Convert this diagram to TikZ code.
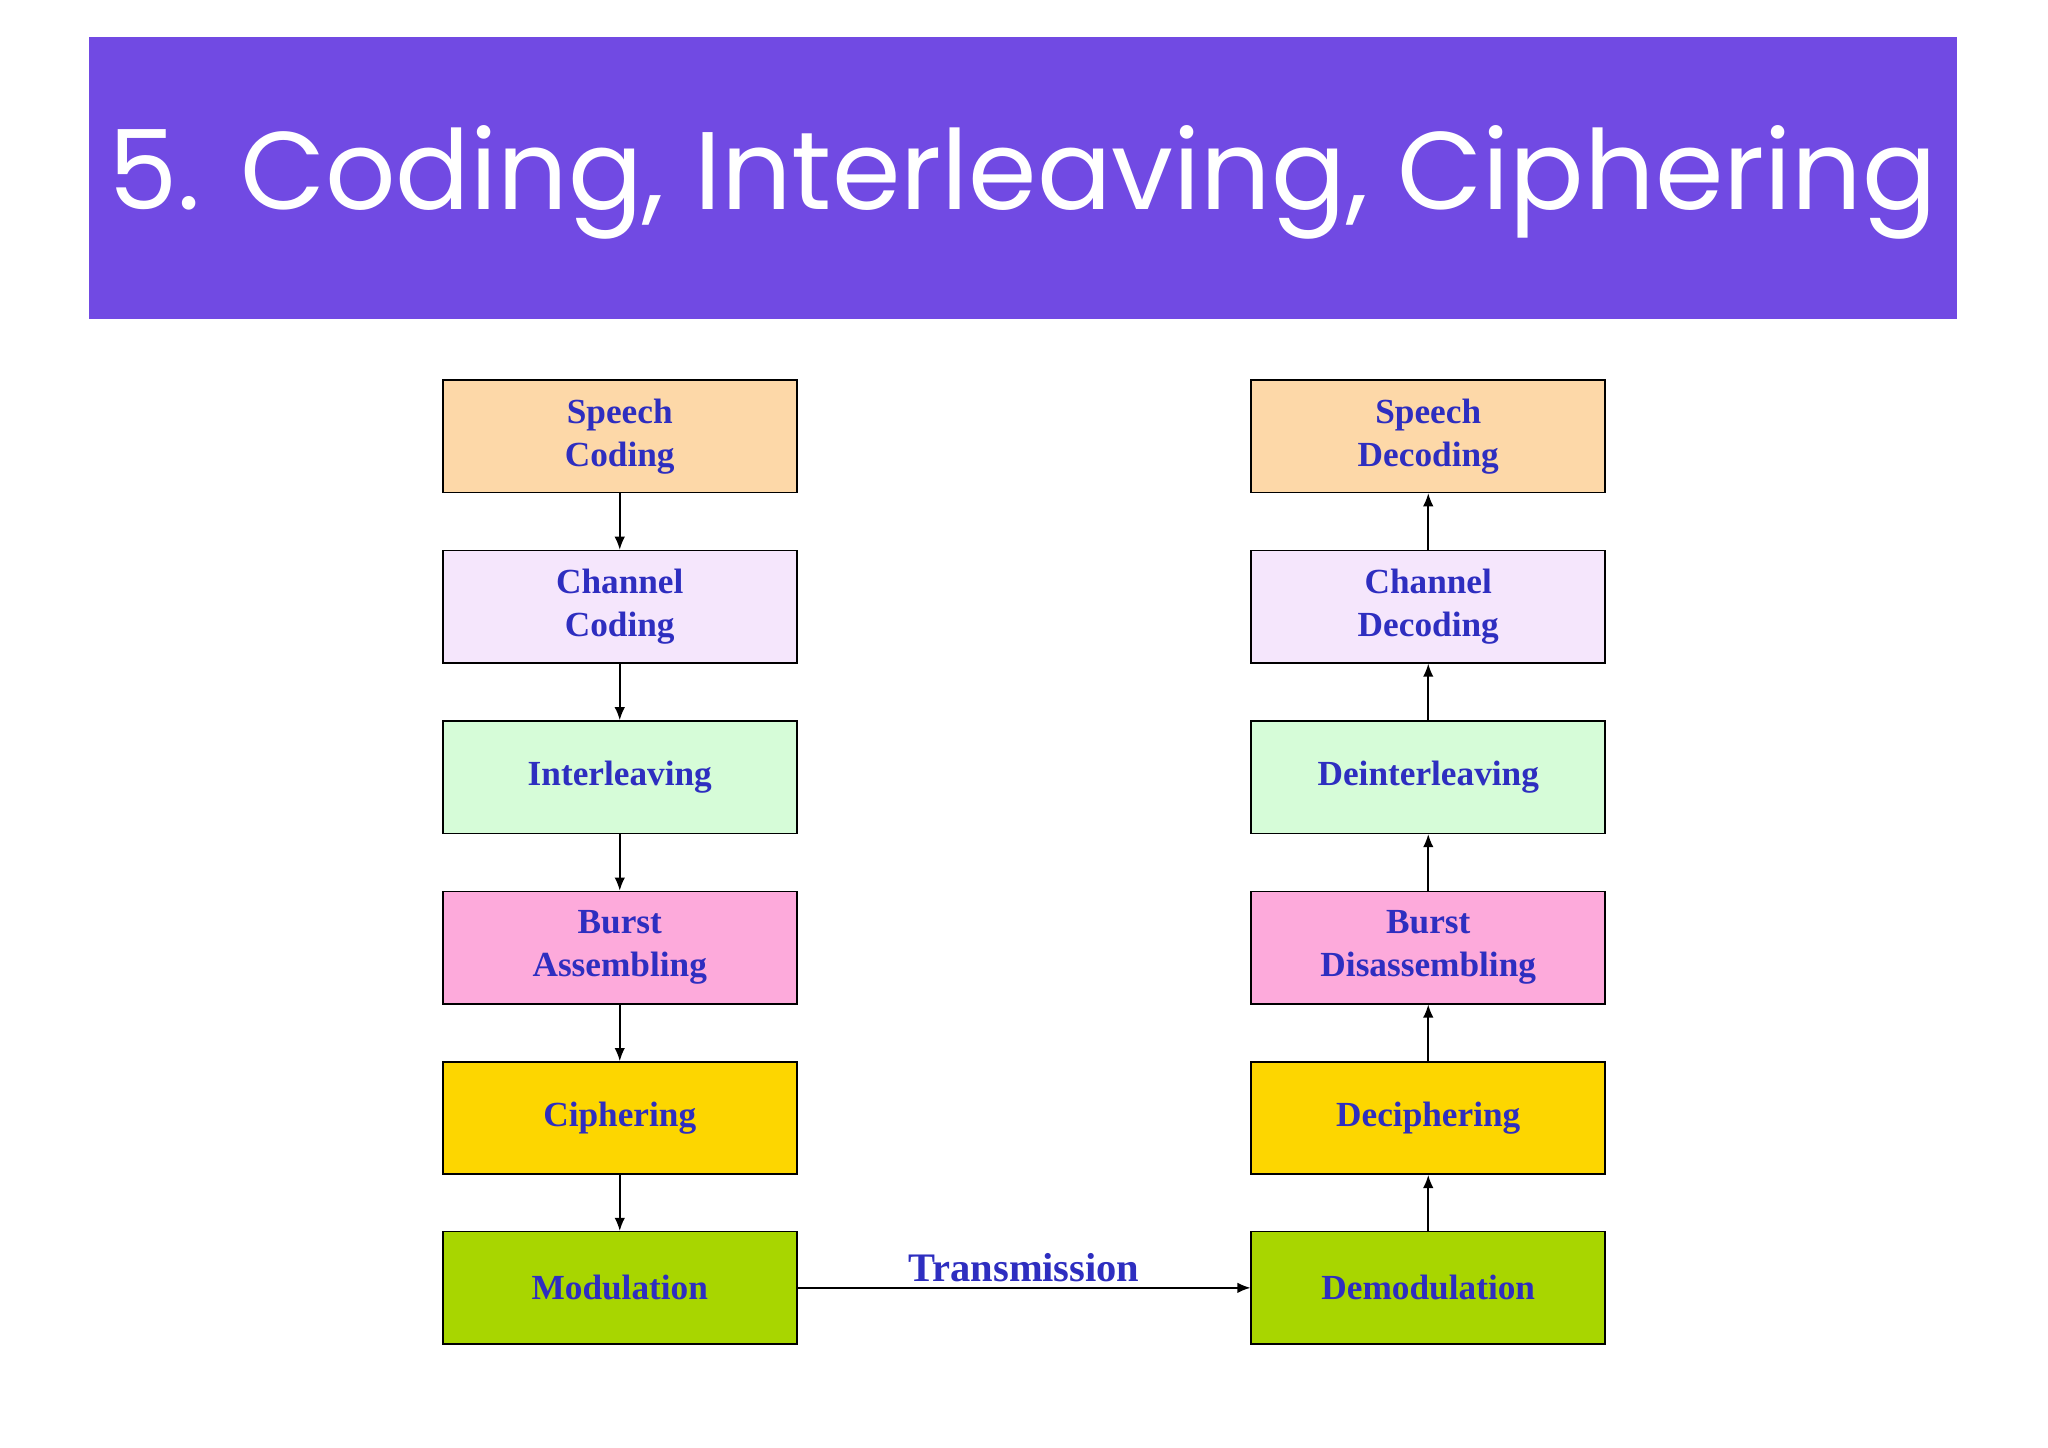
\documentclass[tikz,border=0pt]{standalone}
\usepackage{fontspec}
\setmainfont{Liberation Serif}
\newfontfamily\titlefont{Poppins}
\usetikzlibrary{arrows.meta}
\definecolor{titlebg}{HTML}{714AE3}
\definecolor{txtblue}{HTML}{2E2EC0}
\definecolor{cSpeech}{HTML}{FDD8A8}
\definecolor{cChan}{HTML}{F5E6FC}
\definecolor{cInter}{HTML}{D6FCD8}
\definecolor{cBurst}{HTML}{FDAADB}
\definecolor{cCiph}{HTML}{FDD600}
\definecolor{cMod}{HTML}{A8D600}
\tikzset{
  blk/.style={draw=black, line width=0.6pt, minimum width=135.5pt, minimum height=43pt, inner sep=0pt,
    align=center, text=txtblue, font=\fontsize{13.5}{16.5}\selectfont\bfseries},
  arr/.style={-{Latex[length=5pt,width=4pt]}, line width=0.6pt, black}
}
\begin{document}
\begin{tikzpicture}[x=0.5pt,y=-0.5pt]
\useasboundingbox (0,0) rectangle (1568,1108);
\fill[white] (0,0) rectangle (1568,1108);
\node[fill=titlebg, minimum width=715pt, minimum height=108pt, inner sep=0pt, anchor=north west] (title) at (68,28) {};
\node[text=white, inner sep=0pt] (tt) at (783,140) {\resizebox{700pt}{!}{\titlefont 5. Coding, Interleaving, Ciphering}};
\def\lx{474.5}\def\rx{1093.5}
\node[blk, fill=cSpeech] (l1) at (\lx,334) {Speech\\Coding};
\node[blk, fill=cChan] (l2) at (\lx,464.5) {Channel\\Coding};
\node[blk, fill=cInter] (l3) at (\lx,595) {Interleaving};
\node[blk, fill=cBurst] (l4) at (\lx,725.5) {Burst\\Assembling};
\node[blk, fill=cCiph] (l5) at (\lx,856) {Ciphering};
\node[blk, fill=cMod] (l6) at (\lx,986) {Modulation};
\node[blk, fill=cSpeech] (r1) at (\rx,334) {Speech\\Decoding};
\node[blk, fill=cChan] (r2) at (\rx,464.5) {Channel\\Decoding};
\node[blk, fill=cInter] (r3) at (\rx,595) {Deinterleaving};
\node[blk, fill=cBurst] (r4) at (\rx,725.5) {Burst\\Disassembling};
\node[blk, fill=cCiph] (r5) at (\rx,856) {Deciphering};
\node[blk, fill=cMod] (r6) at (\rx,986) {Demodulation};
\foreach \a/\b in {1/2,2/3,3/4,4/5,5/6}{
  \draw[arr] (l\a) -- (l\b);
  \draw[arr] (r\b) -- (r\a);
}
\draw[arr] (l6) -- node[above, text=txtblue, font=\fontsize{15.5}{18}\selectfont\bfseries, inner sep=2pt] {Transmission} (r6);
\end{tikzpicture}
\end{document}
